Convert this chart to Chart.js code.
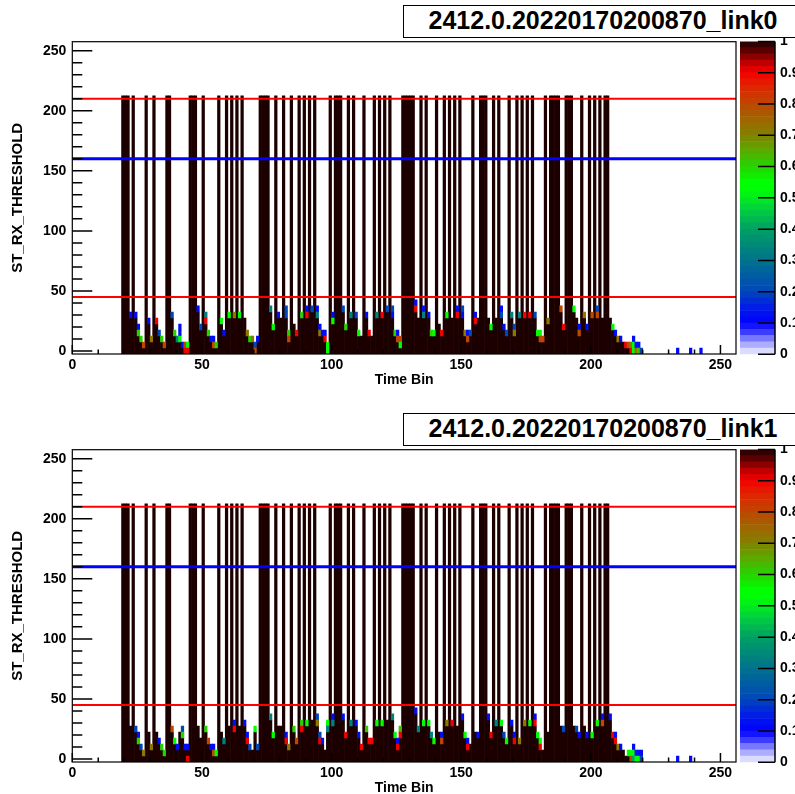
<!DOCTYPE html>
<html>
<head>
<meta charset="utf-8">
<script src="https://cdn.jsdelivr.net/npm/chart.js@4.4.1/dist/chart.umd.min.js"></script>
<style>
  html, body { margin: 0; padding: 0; background: #fff; width: 795px; height: 794px; overflow: hidden; }
  canvas { position: absolute; left: 0; }
  .cbar { left: 740px; }
  .title {
    position: absolute; left: 403px; width: 400px; height: 33px; box-sizing: border-box;
    border: 1.5px solid #000; background: #fff; text-align: center; line-height: 30px;
    font: bold 25px 'Liberation Sans', Arial, sans-serif; white-space: nowrap;
  }
</style>
</head>
<body>
<canvas id="p0" width="795" height="400" style="top:0px"></canvas>
<canvas id="c0" class="cbar" width="140" height="400" style="top:0px"></canvas>
<div class="title" id="t0" style="top:5px"></div>
<canvas id="p1" width="795" height="400" style="top:408px"></canvas>
<canvas id="c1" class="cbar" width="140" height="400" style="top:408px"></canvas>
<div class="title" id="t1" style="top:413px"></div>
<script>
// histogram titles
const titles = ['2412.0.20220170200870_link0', '2412.0.20220170200870_link1'];
const xTitle = 'Time Bin';
const yTitle = 'ST_RX_THRESHOLD';

// threshold lines
const redLines = [45, 210];
const blueLine = 160;

// body[i] = top y-bin (bin width 5) of the dark column for time bin firstBin+i, -5 = empty
const firstBin = 19;
const link0Body = [
  210,210,210,25,210,25,10,5,0,210,
  20,5,210,20,10,5,0,210,210,25,
  10,5,5,0,-5,-5,210,210,210,30,
  15,210,20,10,5,0,0,210,20,10,
  210,25,210,25,210,25,210,25,10,5,
  5,-5,5,210,210,210,210,30,15,210,
  25,25,210,25,5,210,20,10,210,25,
  210,25,210,30,210,25,10,10,5,-5,
  210,20,210,210,210,30,15,210,25,210,
  25,10,10,210,25,10,10,210,25,210,
  25,210,30,210,25,10,5,0,210,210,
  210,210,210,30,25,210,25,210,25,10,
  10,210,20,10,210,25,210,25,210,25,
  210,25,10,5,10,210,20,25,210,210,
  210,25,15,210,25,210,25,15,10,210,
  25,10,210,25,210,25,210,25,210,25,
  10,5,5,210,20,210,210,210,210,30,
  15,210,210,210,30,25,10,210,25,15,
  210,25,210,25,210,25,210,210,25,15,
  10,5,5,5,0,0,-5,-5,-5,-5,
  -5
];
const link1Body = [
  210,210,210,25,210,20,10,5,0,210,
  20,5,210,20,10,5,0,210,210,20,
  10,5,20,20,5,5,210,210,210,25,
  15,210,20,10,5,5,0,210,20,10,
  210,25,210,25,210,25,210,25,15,5,
  5,20,5,210,210,210,210,30,15,210,
  25,25,210,15,5,210,20,10,210,25,
  210,25,210,30,210,30,15,10,5,20,
  210,25,210,210,210,30,15,210,25,210,
  25,15,5,210,20,10,10,210,25,210,
  25,210,30,210,30,15,5,15,210,210,
  210,210,210,35,20,210,25,210,25,15,
  10,210,20,10,210,25,210,25,210,25,
  210,30,15,5,10,210,20,15,210,210,
  210,30,15,210,25,210,25,15,10,210,
  25,10,210,10,210,25,210,25,210,25,
  15,5,5,210,20,210,210,210,210,25,
  20,210,210,210,25,20,15,210,25,15,
  210,15,210,25,210,30,210,210,30,15,
  10,5,5,5,0,0,-5,-5,-5,-5,
  -5
];

// coloured cells: [time bin, y-bin centre, fraction]
const link0Cells = [
  [22,30,.12],[24,30,.12],[25,20,.12],[25,15,.6],[26,10,.6],[27,5,.8],[29,25,.12],[30,10,.72],
  [32,25,.9],[33,15,.2],[34,10,.6],[35,5,.8],[38,30,.2],[39,15,.6],[40,10,.33],[41,20,.12],
  [41,15,.12],[41,10,.55],[42,5,.12],[43,5,.8],[43,0,.9],[44,5,.55],[44,0,.9],[48,35,.12],
  [49,20,.2],[51,30,.33],[51,25,.9],[52,15,.6],[53,10,.12],[54,10,.12],[54,5,.8],[55,5,.6],
  [57,25,.55],[58,15,.12],[60,30,.55],[62,30,.72],[64,30,.55],[67,15,.72],[68,10,.6],[69,10,.72],
  [70,5,.2],[70,0,.8],[71,10,.12],[76,35,.33],[77,20,.55],[79,30,.12],[82,35,.2],[82,30,.2],
  [83,15,.6],[83,10,.8],[86,15,.9],[88,30,.6],[90,35,.12],[90,30,.9],[92,35,.2],[94,35,.12],
  [94,30,.33],[95,20,.12],[95,15,.72],[96,15,.12],[97,15,.12],[97,10,.9],[98,5,.55],[98,0,.55],
  [100,30,.12],[100,25,.55],[104,35,.2],[105,20,.6],[107,30,.33],[109,30,.2],[110,15,.55],[113,30,.12],
  [114,15,.9],[117,30,.33],[119,30,.9],[121,35,.2],[123,35,.2],[123,30,.12],[124,15,.6],[125,15,.12],
  [125,10,.8],[126,10,.8],[126,5,.55],[132,40,.12],[132,35,.9],[135,35,.12],[135,30,.33],[137,30,.12],
  [138,15,.6],[139,15,.55],[142,15,.9],[144,30,.55],[148,35,.12],[148,30,.9],[150,35,.2],[150,30,.12],
  [151,15,.72],[152,15,.12],[152,10,.8],[153,15,.2],[155,30,.12],[155,25,.9],[161,20,.55],[165,35,.12],
  [165,30,.2],[166,20,.12],[167,15,.2],[169,30,.33],[170,20,.2],[170,15,.72],[172,30,.33],[174,30,.9],
  [176,30,.9],[178,30,.2],[179,15,.55],[180,15,.55],[180,10,.8],[181,10,.8],[183,25,.72],[188,35,.8],
  [189,20,.9],[193,35,.55],[195,20,.12],[195,15,.8],[197,30,.72],[198,20,.12],[200,30,.8],[202,35,.2],
  [202,30,.8],[208,20,.55],[209,15,.12],[210,10,.72],[211,10,.12],[213,5,.9],[214,5,.8],[215,5,.72],
  [215,0,.9],[216,10,.12],[216,5,.55],[216,0,.55],[217,5,.12],[217,0,.72],[218,5,.12],[218,0,.62],
  [219,0,.2],[233,0,.12],[238,0,.12],[242,0,.12]
];
const link1Cells = [
  [24,25,.2],[25,20,.12],[25,15,.6],[26,10,.2],[27,5,.72],[30,10,.72],[33,15,.12],[34,10,.6],
  [35,5,.6],[38,25,.8],[39,15,.55],[40,10,.12],[42,25,.2],[42,20,.6],[43,10,.12],[44,10,.12],
  [44,0,.9],[51,25,.6],[52,15,.8],[53,10,.12],[54,10,.12],[54,5,.8],[55,5,.55],[58,15,.33],
  [62,30,.12],[62,25,.9],[66,30,.12],[67,20,.12],[67,15,.9],[68,10,.2],[70,25,.55],[71,10,.2],
  [76,35,.33],[77,20,.55],[82,20,.12],[82,15,.9],[83,10,.72],[85,25,.6],[86,15,.8],[88,30,.6],
  [88,25,.9],[90,30,.55],[94,35,.2],[94,30,.72],[95,20,.2],[95,15,.9],[96,15,.12],[98,30,.55],
  [98,25,.33],[100,35,.12],[100,30,.33],[104,35,.12],[105,20,.9],[107,30,.33],[109,30,.12],[110,20,.12],
  [111,10,.9],[113,25,.62],[114,15,.9],[115,15,.9],[117,30,.55],[119,30,.55],[123,35,.33],[124,20,.55],
  [125,15,.12],[125,10,.9],[126,25,.62],[126,20,.9],[132,40,.12],[133,25,.33],[135,30,.55],[137,30,.55],
  [138,20,.33],[139,15,.55],[142,20,.12],[142,15,.8],[144,30,.72],[146,30,.9],[150,35,.12],[151,20,.55],
  [152,15,.12],[152,10,.9],[156,20,.12],[160,35,.12],[161,20,.9],[163,30,.33],[165,30,.55],[166,20,.2],
  [167,15,.55],[169,30,.12],[170,20,.12],[170,15,.9],[172,15,.72],[174,30,.72],[176,30,.55],[178,35,.12],
  [178,30,.9],[179,20,.55],[180,15,.55],[180,10,.9],[189,25,.2],[194,25,.2],[195,20,.12],[198,20,.12],
  [200,20,.55],[202,30,.55],[204,35,.12],[204,30,.8],[207,35,.12],[208,20,.9],[209,20,.12],[209,15,.9],
  [210,10,.72],[211,10,.12],[214,5,.55],[215,5,.55],[215,0,.8],[216,10,.12],[216,5,.55],[216,0,.4],
  [217,5,.12],[217,0,.55],[218,5,.12],[218,0,.55],[219,5,.12],[219,0,.2],[233,0,.12],[238,0,.12]
];

// colour palette (fraction -> rgb)
const paletteStops = [
  [0, [242,242,255]], [0.04, [150,150,255]], [0.07, [60,60,255]], [0.1, [0,0,255]],
  [0.15, [0,30,230]], [0.2, [0,70,185]], [0.3, [0,115,140]], [0.4, [0,160,100]],
  [0.45, [0,200,70]], [0.52, [0,250,10]], [0.55, [0,255,0]], [0.6, [40,210,0]],
  [0.65, [90,170,0]], [0.7, [130,130,0]], [0.75, [160,100,0]], [0.8, [190,70,0]],
  [0.85, [220,40,0]], [0.9, [245,0,0]], [0.93, [190,0,0]], [0.97, [90,0,0]], [1, [28,0,0]]
];
const nLevels = 50;
const yBinHalf = 2.5;

Chart.defaults.font.family = "'Liberation Sans', Arial, sans-serif";
Chart.defaults.font.weight = 'bold';
Chart.defaults.color = '#000';

function palette(v) {
  for (let i = 1; i < paletteStops.length; i++) {
    const [v1, c1] = paletteStops[i];
    if (v <= v1) {
      const [v0, c0] = paletteStops[i - 1];
      const t = (v - v0) / (v1 - v0);
      const c = c0.map((a, k) => Math.round(a + (c1[k] - a) * t));
      return 'rgb(' + c.join(',') + ')';
    }
  }
  return 'rgb(28,0,0)';
}

// ROOT style ticks inside the frame
const rootAxes = {
  id: 'rootAxes',
  afterDatasetsDraw(chart) {
    const { ctx, chartArea: a, scales: { x, y } } = chart;
    ctx.save();
    ctx.strokeStyle = '#000';
    ctx.lineWidth = 1.5;
    ctx.beginPath();
    for (let v = 0; v <= 256; v += 10) {
      const px = x.getPixelForValue(v);
      const len = v % 50 === 0 ? 9 : 4.5;
      ctx.moveTo(px, a.bottom);
      ctx.lineTo(px, a.bottom - len);
    }
    for (let v = 0; v <= 257; v += 10) {
      const py = y.getPixelForValue(v);
      const len = v % 50 === 0 ? 20 : 10;
      ctx.moveTo(a.left, py);
      ctx.lineTo(a.left + len, py);
    }
    ctx.stroke();
    ctx.lineWidth = 1.2;
    ctx.strokeRect(a.left, a.top, a.right - a.left, a.bottom - a.top);
    ctx.restore();
  }
};

const cbarTicks = {
  id: 'cbarTicks',
  afterDatasetsDraw(chart) {
    const { ctx, chartArea: a, scales: { y } } = chart;
    ctx.save();
    ctx.strokeStyle = '#000';
    ctx.lineWidth = 1.5;
    ctx.beginPath();
    for (let v = 0; v <= 10; v++) {
      const py = y.getPixelForValue(v / 10);
      ctx.moveTo(a.right - 17, py);
      ctx.lineTo(a.right, py);
    }
    ctx.moveTo(a.right, a.top);
    ctx.lineTo(a.right, a.bottom);
    ctx.stroke();
    ctx.restore();
  }
};

function drawPanel(id, body, cells) {
  const bodyData = [];
  body.forEach((top, i) => {
    if (top >= 0) bodyData.push({ x: firstBin + i + 0.5, y: [-yBinHalf, top + yBinHalf] });
  });
  const cellData = cells.map(c => ({ x: c[0] + 0.5, y: [c[1] - yBinHalf, c[1] + yBinHalf] }));
  const cellColors = cells.map(c => palette(c[2]));
  const hLine = (v, color, w) => ({
    type: 'line', data: [{ x: 0, y: v }, { x: 256, y: v }],
    borderColor: color, borderWidth: w, pointRadius: 0, order: 0
  });
  const barOpts = { grouped: false, barPercentage: 1, categoryPercentage: 1, borderWidth: 0 };

  new Chart(document.getElementById(id), {
    type: 'bar',
    data: {
      datasets: [
        hLine(redLines[0], '#ff0000', 2),
        hLine(redLines[1], '#ff0000', 2),
        hLine(blueLine, '#0000ff', 3),
        Object.assign({ data: cellData, backgroundColor: cellColors, order: 1 }, barOpts),
        Object.assign({ data: bodyData, backgroundColor: 'rgb(28,0,0)', order: 2 }, barOpts)
      ]
    },
    options: {
      responsive: false,
      animation: false,
      events: [],
      layout: { padding: { left: 0, right: 59, top: 41.7, bottom: 0 } },
      plugins: { legend: { display: false }, tooltip: { enabled: false } },
      scales: {
        x: {
          type: 'linear', min: 0, max: 256, offset: false,
          grid: { display: false, drawTicks: false, offset: false },
          border: { display: false },
          ticks: { stepSize: 50, includeBounds: false, maxRotation: 0, padding: 3, font: { size: 14, weight: 'bold' } },
          title: { display: true, text: xTitle, font: { size: 14, weight: 'bold' }, padding: { top: 0, bottom: 11.6 } },
          afterFit: s => { s.height = 46; }
        },
        y: {
          type: 'linear', min: -yBinHalf, max: 257.5,
          grid: { display: false, drawTicks: false },
          border: { display: false },
          ticks: { stepSize: 50, includeBounds: false, padding: 6, font: { size: 14, weight: 'bold' } },
          title: { display: true, text: yTitle, font: { size: 15, weight: 'bold' }, padding: { top: 9, bottom: 0 } },
          afterFit: s => { s.width = 72.3; }
        }
      }
    },
    plugins: [rootAxes]
  });
}

function drawColorBar(id) {
  const step = 1 / nLevels;
  const datasets = [];
  for (let i = 0; i < nLevels; i++) {
    datasets.push({ data: [step], backgroundColor: palette((i + 0.5) * step), barPercentage: 1, categoryPercentage: 1, borderWidth: 0 });
  }
  new Chart(document.getElementById(id), {
    type: 'bar',
    data: { labels: [''], datasets },
    options: {
      responsive: false,
      animation: false,
      events: [],
      layout: { padding: { left: 0, right: 0, top: 41.4, bottom: 45.7 } },
      plugins: { legend: { display: false }, tooltip: { enabled: false } },
      scales: {
        x: { stacked: true, display: false },
        y: {
          stacked: true, position: 'right', min: 0, max: 1,
          grid: { display: false, drawTicks: false },
          border: { display: false },
          ticks: {
            stepSize: 0.1, padding: 5, font: { size: 14, weight: 'bold' },
            callback: v => (v === 0 || v === 1) ? String(v) : v.toFixed(1)
          },
          afterFit: s => { s.width = 105; }
        }
      }
    },
    plugins: [cbarTicks]
  });
}

document.getElementById('t0').textContent = titles[0];
document.getElementById('t1').textContent = titles[1];
drawPanel('p0', link0Body, link0Cells);
drawColorBar('c0');
drawPanel('p1', link1Body, link1Cells);
drawColorBar('c1');
</script>
</body>
</html>
